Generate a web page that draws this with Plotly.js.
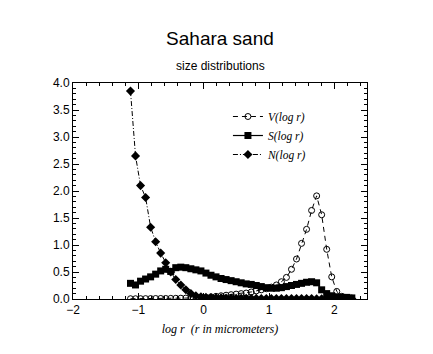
<!DOCTYPE html>
<html>
<head>
<meta charset="utf-8">
<script src="https://cdn.plot.ly/plotly-3.0.1.min.js"></script>
<style>html,body{margin:0;padding:0;background:#fff;}#chart{width:433px;height:354px;}</style>
</head>
<body>
<div id="chart"></div>
<script>
const logR = [-1.12, -1.043, -0.966, -0.889, -0.812, -0.735, -0.658, -0.581, -0.504, -0.427,
  -0.35, -0.273, -0.196, -0.119, -0.042, 0.035, 0.112, 0.189, 0.266, 0.343,
  0.42, 0.497, 0.574, 0.651, 0.728, 0.805, 0.882, 0.959, 1.036, 1.113,
  1.19, 1.267, 1.344, 1.421, 1.498, 1.575, 1.652, 1.729, 1.806, 1.883,
  1.96, 2.037, 2.114, 2.191, 2.268];
const V = [0.005, 0.005, 0.006, 0.007, 0.008, 0.009, 0.01, 0.01, 0.012, 0.013,
  0.015, 0.017, 0.019, 0.021, 0.025, 0.03, 0.04, 0.05, 0.06, 0.07,
  0.08, 0.09, 0.10, 0.11, 0.13, 0.15, 0.17, 0.19, 0.22, 0.26,
  0.32, 0.40, 0.55, 0.74, 1.03, 1.29, 1.64, 1.91, 1.56, 0.92,
  0.41, 0.14, 0.05, 0.02, 0.01];
const S = [0.29, 0.26, 0.33, 0.37, 0.41, 0.46, 0.52, 0.55, 0.51, 0.58,
  0.59, 0.58, 0.56, 0.54, 0.52, 0.48, 0.44, 0.41, 0.38, 0.36,
  0.34, 0.32, 0.30, 0.28, 0.27, 0.25, 0.23, 0.21, 0.20, 0.20,
  0.21, 0.23, 0.25, 0.27, 0.29, 0.31, 0.32, 0.30, 0.17, 0.10,
  0.06, 0.04, 0.03, 0.03, 0.02];
const N = [3.85, 2.65, 2.10, 1.88, 1.33, 1.06, 0.85, 0.67, 0.50, 0.36,
  0.26, 0.17, 0.10, 0.06, 0.04, 0.03, 0.025, 0.022, 0.02, 0.018,
  0.016, 0.015, 0.014, 0.013, 0.012, 0.011, 0.01, 0.01, 0.01, 0.009,
  0.009, 0.008, 0.008, 0.008, 0.007, 0.007, 0.007, 0.006, 0.006, 0.006,
  0.005, 0.005, 0.005, 0.005, 0.004];
const names = ['<i>V(log r)</i>', '<i>S(log r)</i>', '<i>N(log r)</i>'];

const traces = [
  {x: logR, y: V, name: names[0], mode: 'lines+markers',
   line: {color: '#000', width: 1, dash: '5px,4px'},
   marker: {symbol: 'circle-open', size: 6, color: '#000', line: {width: 1, color: '#000'}}},
  {x: logR, y: S, name: names[1], mode: 'lines+markers',
   line: {color: '#000', width: 1.2},
   marker: {symbol: 'square', size: 7, color: '#000'}},
  {x: logR, y: N, name: names[2], mode: 'lines+markers',
   line: {color: '#000', width: 1, dash: '5px,2px,1px,2px'},
   marker: {symbol: 'diamond', size: 7, color: '#000'}}
];

const axisCommon = {
  showgrid: false, zeroline: false, showline: true, linecolor: '#000', linewidth: 1,
  mirror: 'ticks', ticks: 'inside', ticklen: 6, tickcolor: '#000', tickwidth: 1,
  tickfont: {family: 'Liberation Sans, Arial, sans-serif', size: 12, color: '#000'}
};

const layout = {
  width: 433, height: 354,
  margin: {l: 73, r: 66, t: 83, b: 55},
  paper_bgcolor: '#fff', plot_bgcolor: '#fff',
  showlegend: true,
  title: {text: 'Sahara sand', x: 0.508, xanchor: 'center', y: 0.874, yanchor: 'bottom',
          font: {family: 'Liberation Sans, Arial, sans-serif', size: 19, color: '#000'}},
  xaxis: Object.assign({}, axisCommon, {
    range: [-2, 2.5], dtick: 1, tick0: 0,
    minor: {dtick: 0.2, ticks: 'inside', ticklen: 3, tickcolor: '#000'},
    title: {text: '<i>log r  (r in micrometers)</i>', standoff: 8,
            font: {family: 'Liberation Serif, Times New Roman, serif', size: 12, color: '#000'}}
  }),
  yaxis: Object.assign({}, axisCommon, {
    range: [0, 4], dtick: 0.5, tick0: 0, tickformat: '.1f',
    minor: {dtick: 0.1, ticks: 'inside', ticklen: 3, tickcolor: '#000'}
  }),
  legend: {x: 0.527, y: 0.912, xanchor: 'left', yanchor: 'top', bgcolor: 'rgba(0,0,0,0)',
           tracegroupgap: 0, itemwidth: 30,
           font: {family: 'Liberation Serif, Times New Roman, serif', size: 11.5, color: '#000'}},
  annotations: [{text: 'size distributions', xref: 'paper', yref: 'paper', x: 0.5, y: 1.035,
                 xanchor: 'center', yanchor: 'bottom', showarrow: false,
                 font: {family: 'Liberation Sans, Arial, sans-serif', size: 12, color: '#000'}}]
};

Plotly.newPlot('chart', traces, layout, {staticPlot: true, displayModeBar: false});
</script>
</body>
</html>
